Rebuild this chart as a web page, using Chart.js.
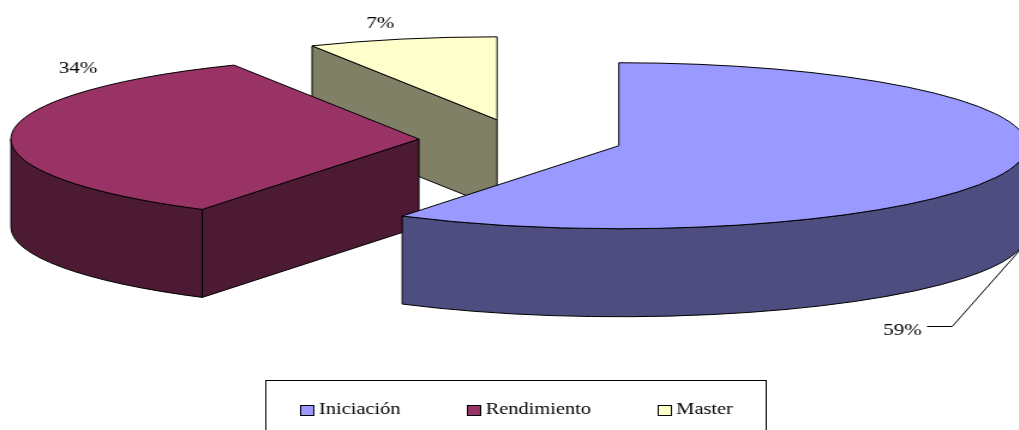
<!DOCTYPE html>
<html>
<head>
<meta charset="utf-8">
<script src="https://cdn.jsdelivr.net/npm/chart.js@4"></script>
<style>
html,body{margin:0;padding:0;background:#fff;width:1019px;height:430px;overflow:hidden}
#wrap{width:850px;height:470px;transform:scaleX(1.2);transform-origin:0 0}
canvas{display:block}
</style>
</head>
<body>
<div id="wrap"><canvas id="c" width="850" height="470"></canvas></div>
<script>
const categories = ['Iniciación', 'Rendimiento', 'Master'];
const shares = [58.91, 33.6, 7.49];
const topColors = ['#9999FF', '#993366', '#FFFFCC'];
const wallColors = ['#4D4D80', '#4D1A33', '#808066'];

const FAMILY = '"Liberation Serif", "Times New Roman", serif';
const LEGEND_FONT = {family: FAMILY, size: 17};
const LABEL_SIZE = 17.5;
const view = {radius: 340, squash: 83 / 340, depth: 88, explode: 0.25, centerX: 434, centerY: 140};
const labelSpots = [{x: 752, y: 330.5}, {x: 65, y: 68.5}, {x: 317, y: 23.5}];
const leader = [[772.5, 326.5], [793.5, 326.5], [850, 250]];
const frame = {x: 221.5, y: 380.5, w: 417, h: 100};
const swatch = {dx: 4.6, w: 11, h: 10};

const pie3d = {
  id: 'pie3d',
  beforeDatasetsDraw(chart) {
    const ctx = chart.ctx;
    const arcs = chart.getDatasetMeta(0).data;
    ctx.save();
    ctx.lineWidth = 1;
    ctx.strokeStyle = '#000';
    ctx.lineJoin = 'round';
    for (let i = arcs.length - 1; i >= 0; i--) {
      const a = arcs[i];
      const R = a.outerRadius, Ry = R * view.squash;
      const mid = (a.startAngle + a.endAngle) / 2;
      const ax = view.centerX + Math.cos(mid) * R * view.explode;
      const ay = view.centerY + Math.sin(mid) * Ry * view.explode;
      const s = a.startAngle, e = a.endAngle;
      const px = t => ax + Math.cos(t) * R, py = t => ay + Math.sin(t) * Ry;
      ctx.fillStyle = wallColors[i];

      // visible straight side faces
      [[s, Math.cos(s) < -1e-6], [e, Math.cos(e) > 1e-6]].forEach(([t, show]) => {
        if (!show) return;
        ctx.beginPath();
        ctx.moveTo(ax, ay);
        ctx.lineTo(px(t), py(t));
        ctx.lineTo(px(t), py(t) + view.depth);
        ctx.lineTo(ax, ay + view.depth);
        ctx.closePath();
        ctx.fill();
        ctx.stroke();
      });

      // visible rim
      const w0 = Math.max(s, 0), w1 = Math.min(e, Math.PI);
      if (w1 > w0) {
        ctx.beginPath();
        ctx.ellipse(ax, ay, R, Ry, 0, w0, w1);
        ctx.ellipse(ax, ay + view.depth, R, Ry, 0, w1, w0, true);
        ctx.closePath();
        ctx.fill();
        ctx.stroke();
      }

      // top face, filled by the library's arc element
      ctx.save();
      ctx.translate(ax, ay);
      ctx.scale(1, view.squash);
      ctx.translate(-a.x, -a.y);
      a.draw(ctx);
      ctx.restore();

      ctx.beginPath();
      ctx.moveTo(ax, ay);
      ctx.ellipse(ax, ay, R, Ry, 0, s, e);
      ctx.closePath();
      ctx.stroke();
    }
    ctx.restore();
    return false;
  },
  afterDraw(chart) {
    const ctx = chart.ctx;
    const total = shares.reduce((p, v) => p + v, 0);
    ctx.save();
    ctx.strokeStyle = '#000';
    ctx.lineWidth = 1;
    ctx.strokeRect(frame.x, frame.y, frame.w, frame.h);
    ctx.beginPath();
    leader.forEach(([x, y], i) => i ? ctx.lineTo(x, y) : ctx.moveTo(x, y));
    ctx.stroke();

    // legend swatches sit closer to their text than the stock legend allows
    chart.legend.legendHitBoxes.forEach((box, i) => {
      const x = Math.round(box.left + swatch.dx) + 0.5;
      const y = Math.round(box.top + (box.height - swatch.h) / 2) + 0.5;
      ctx.fillStyle = topColors[i];
      ctx.fillRect(x, y, swatch.w, swatch.h);
      ctx.strokeRect(x, y, swatch.w, swatch.h);
    });

    ctx.fillStyle = '#000';
    ctx.font = LABEL_SIZE + 'px ' + FAMILY;
    ctx.textAlign = 'center';
    ctx.textBaseline = 'middle';
    shares.forEach((v, i) => {
      ctx.fillText(Math.round(v / total * 100) + '%', labelSpots[i].x, labelSpots[i].y);
    });
    ctx.restore();
  }
};

new Chart(document.getElementById('c'), {
  type: 'pie',
  data: {
    labels: categories,
    datasets: [{data: shares, backgroundColor: topColors, borderWidth: 0, radius: view.radius}]
  },
  options: {
    responsive: false,
    animation: false,
    devicePixelRatio: 1,
    layout: {padding: {left: 6, bottom: 42}},
    plugins: {
      tooltip: {enabled: false},
      legend: {
        position: 'bottom',
        labels: {
          color: '#000',
          font: LEGEND_FONT,
          boxWidth: 12,
          boxHeight: 11,
          padding: 50.5,
          generateLabels(chart) {
            return Chart.overrides.pie.plugins.legend.labels.generateLabels(chart)
              .map(l => Object.assign(l, {fillStyle: 'rgba(0,0,0,0)', strokeStyle: 'rgba(0,0,0,0)', lineWidth: 0}));
          }
        }
      }
    }
  },
  plugins: [pie3d]
});
</script>
</body>
</html>
